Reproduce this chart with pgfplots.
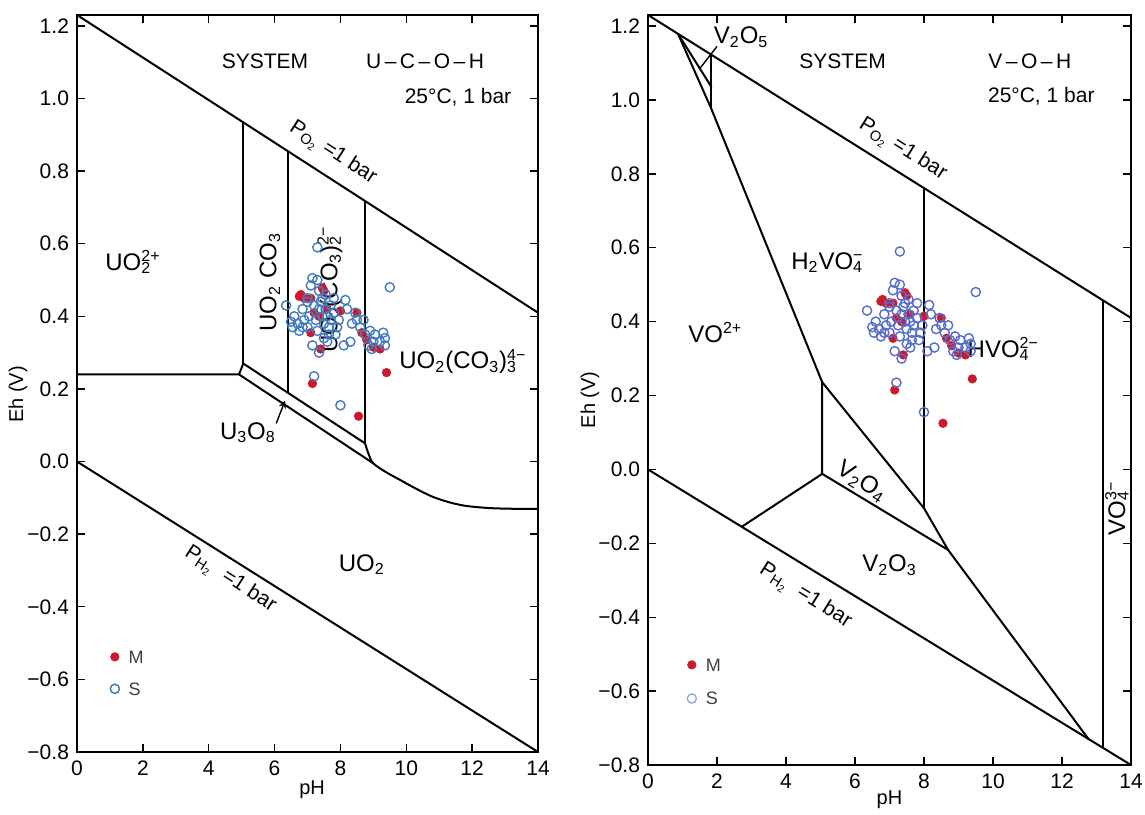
\documentclass[border=0pt]{standalone}
\usepackage{fontspec}
\setmainfont{Liberation Sans}
\usepackage{pgfplots}
\usepackage{pgfplotstable}
\pgfplotsset{compat=1.18}
\newcommand{\sbsp}[2]{\rlap{\textsubscript{#1}}\textsuperscript{#2}}
\definecolor{mred}{RGB}{205,25,45}
\definecolor{sblue}{RGB}{65,125,190}
\definecolor{sblue2}{RGB}{85,110,205}

\pgfplotstableread{
ph eh
6.75 0.455
6.9 0.45
7.1 0.45
7.45 0.478
7.5 0.47
7.2 0.41
7.1 0.355
7.4 0.31
7.15 0.215
8.0 0.415
8.5 0.41
8.65 0.355
8.8 0.335
9.0 0.315
9.2 0.31
9.4 0.245
8.55 0.125
7.6 0.42
7.35 0.40
6.8 0.46
}\Mdata

\pgfplotstableread{
ph eh
7.3 0.59
9.5 0.48
6.35 0.43
7.15 0.505
7.3 0.50
7.1 0.485
7.35 0.47
6.6 0.40
6.55 0.37
6.5 0.385
6.7 0.38
6.85 0.42
6.9 0.39
6.75 0.36
7.0 0.44
7.05 0.40
7.0 0.37
7.2 0.43
7.25 0.39
7.3 0.36
7.35 0.42
7.4 0.44
7.45 0.40
7.5 0.38
7.55 0.42
7.6 0.40
7.65 0.37
7.7 0.43
7.7 0.39
7.8 0.41
7.85 0.35
7.6 0.33
7.35 0.30
7.15 0.32
7.2 0.235
8.0 0.155
8.15 0.445
8.2 0.42
7.95 0.39
8.35 0.38
8.3 0.33
8.1 0.32
8.5 0.39
8.6 0.37
8.7 0.39
8.75 0.35
8.9 0.36
9.0 0.33
9.05 0.35
9.2 0.33
9.35 0.34
9.35 0.32
9.3 0.355
8.95 0.31
7.45 0.45
7.55 0.46
7.8 0.45
7.0 0.45
6.85 0.37
7.65 0.35
7.9 0.37
8.45 0.41
8.85 0.32
7.5 0.34
}\Sdata

\pgfplotsset{
  pourbaix/.style={
    scale only axis, clip=false,
    xmin=0, xmax=14, ymin=-0.8, ymax=1.23,
    xtick={0,2,...,14},
    ytick={-0.8,-0.6,-0.4,-0.2,0,0.2,0.4,0.6,0.8,1.0,1.2},
    yticklabels={−0.8,−0.6,−0.4,−0.2,0.0,0.2,0.4,0.6,0.8,1.0,1.2},
    minor tick num=0,
    tick align=inside, major tick length=4pt,
    axis line style={line width=1.2pt},
    every tick/.style={black, line width=0.7pt},
    tick label style={font=\fontsize{10.5}{12}\selectfont},
    xticklabel style={yshift=-1pt},
    yticklabel style={xshift=-0.5pt},
    /pgf/number format/assume math mode=true,
    label style={font=\fontsize{10.5}{12}\selectfont},
    xlabel={pH}, ylabel={Eh (V)},
  },
  dl/.style={black, line width=1pt, no marks},
  mpts/.style={only marks, mark=*, mark size=2.1pt, mark options={fill=mred, draw=mred}},
  spts/.style={only marks, mark=o, mark size=2.3pt, mark options={line width=0.7pt}},
}
\tikzset{
  lab/.style={font=\fontsize{12}{14}\selectfont},
  hdr/.style={font=\fontsize{10.5}{12}\selectfont},
  leg/.style={anchor=west, font=\fontsize{9}{10}\selectfont, text=black!75},
}

\begin{document}
\begin{tikzpicture}
\path[use as bounding box] (0,0) rectangle (572.5pt,407pt);

% ---------------- left panel -----------------
\begin{axis}[pourbaix, at={(38.5pt,31pt)}, anchor=south west,
  width=230.5pt, height=368.5pt,
  every axis x label/.style={at={(axis description cs:0.51,-0.0516)}, anchor=center},
  every axis y label/.style={at={(axis description cs:-0.128,0.485)}, anchor=center, rotate=90}]
\addplot[dl] coordinates {(0,1.23) (14,0.41)};
\addplot[dl] coordinates {(0,0) (14,-0.8)};
\addplot[dl] coordinates {(0,0.24) (4.92,0.24) (9.0,-0.005)};
\addplot[dl] coordinates {(4.92,0.24) (5.05,0.27) (8.75,0.05)};
\addplot[dl] coordinates {(5.05,0.27) (5.05,0.934)};
\addplot[dl] coordinates {(6.42,0.188) (6.42,0.854)};
\addplot[dl] coordinates {(8.75,0.05) (8.75,0.717)};
\addplot[dl, smooth] coordinates {(8.75,0.05) (8.85,0.022) (9.0,-0.005) (9.4,-0.03) (9.8,-0.05) (10.3,-0.075) (10.8,-0.097) (11.3,-0.112) (11.8,-0.122) (12.5,-0.128) (13.2,-0.13) (14,-0.13)};
\draw[->, line width=0.7pt, >=stealth] (axis cs:6.05,0.105) -- (axis cs:6.32,0.168);

\addplot[mpts] table {\Mdata};
\addplot[spts, sblue] table {\Sdata};

\addplot[mpts] coordinates {(1.15,-0.538)};
\addplot[spts, color=sblue!70!teal] coordinates {(1.15,-0.626)};
\node[leg] at (axis cs:1.35,-0.538) {M};
\node[leg] at (axis cs:1.35,-0.626) {S};

\node[hdr] at (axis cs:5.71,1.103) {SYSTEM};
\node[hdr] at (axis cs:10.57,1.103) {U\,–\,C\,–\,O\,–\,H};
\node[hdr] at (axis cs:11.57,1.004) {25°C, 1 bar};
\node[hdr, rotate=-32.9] at (axis cs:7.77,0.85) {P\textsubscript{O\textsubscript{2}} =1 bar};
\node[hdr, rotate=-32.9] at (axis cs:4.65,-0.325) {P\textsubscript{H\textsubscript{2}} \ =1 bar};
\node[lab] at (axis cs:1.70,0.549) {UO\sbsp{2}{2+}};
\node[lab, rotate=90] at (axis cs:5.86,0.494) {UO\textsubscript{2} CO\textsubscript{3}};
\node[lab, rotate=90] at (axis cs:7.68,0.474) {UO\textsubscript{2}(CO\textsubscript{3})\sbsp{2}{2−}};
\node[lab] at (axis cs:11.72,0.276) {UO\textsubscript{2}(CO\textsubscript{3})\sbsp{3}{4−}};
\node[lab] at (axis cs:5.19,0.08) {U\textsubscript{3}O\textsubscript{8}};
\node[lab] at (axis cs:8.65,-0.284) {UO\textsubscript{2}};
\end{axis}

% ---------------- right panel -----------------
\begin{axis}[pourbaix, at={(324pt,24.5pt)}, anchor=south west,
  width=241.5pt, height=375pt,
  every axis x label/.style={at={(axis description cs:0.5,-0.0467)}, anchor=center},
  every axis y label/.style={at={(axis description cs:-0.12,0.487)}, anchor=center, rotate=90}]
\addplot[dl] coordinates {(0,1.23) (14,0.41)};
\addplot[dl] coordinates {(0,0) (14,-0.8)};
\addplot[dl] coordinates {(0.87,1.179) (1.84,0.975) (5.05,0.236) (5.05,-0.012)};
\addplot[dl] coordinates {(0.87,1.179) (1.84,1.035)};
\addplot[dl] coordinates {(1.84,0.975) (1.84,1.122)};
\addplot[dl] coordinates {(2.72,-0.155) (5.05,-0.012) (8.7,-0.218)};
\addplot[dl] coordinates {(5.05,0.236) (8.0,-0.105) (8.7,-0.218) (12.77,-0.73)};
\addplot[dl] coordinates {(8.0,-0.105) (8.0,0.761)};
\addplot[dl] coordinates {(13.2,0.456) (13.2,-0.754)};
\draw[line width=0.7pt] (axis cs:1.5,1.085) -- (axis cs:2.0,1.145);

\addplot[mpts] table {\Mdata};
\addplot[spts, sblue2] table {\Sdata};

\addplot[mpts] coordinates {(1.27,-0.529)};
\addplot[spts, color=sblue2!60] coordinates {(1.27,-0.62)};
\node[leg] at (axis cs:1.47,-0.529) {M};
\node[leg] at (axis cs:1.47,-0.62) {S};

\node[hdr] at (axis cs:5.64,1.105) {SYSTEM};
\node[hdr] at (axis cs:11.07,1.105) {V\,–\,O\,–\,H};
\node[hdr] at (axis cs:11.4,1.01) {25°C, 1 bar};
\node[lab] at (axis cs:2.7,1.17) {V\textsubscript{2}O\textsubscript{5}};
\node[hdr, rotate=-32.1] at (axis cs:7.38,0.866) {P\textsubscript{O\textsubscript{2}} =1 bar};
\node[hdr, rotate=-32.1] at (axis cs:4.56,-0.343) {P\textsubscript{H\textsubscript{2}} \ =1 bar};
\node[lab] at (axis cs:5.2,0.56) {H\textsubscript{2}VO\sbsp{4}{−}};
\node[lab] at (axis cs:1.95,0.37) {VO\textsuperscript{2+}};
\node[lab] at (axis cs:10.3,0.326) {HVO\sbsp{4}{2−}};
\node[lab, rotate=-33] at (axis cs:6.2,-0.033) {V\textsubscript{2}O\textsubscript{4}};
\node[lab] at (axis cs:7.0,-0.259) {V\textsubscript{2}O\textsubscript{3}};
\node[lab, rotate=90] at (axis cs:13.59,-0.105) {VO\sbsp{4}{3−}};
\end{axis}
\end{tikzpicture}
\end{document}
